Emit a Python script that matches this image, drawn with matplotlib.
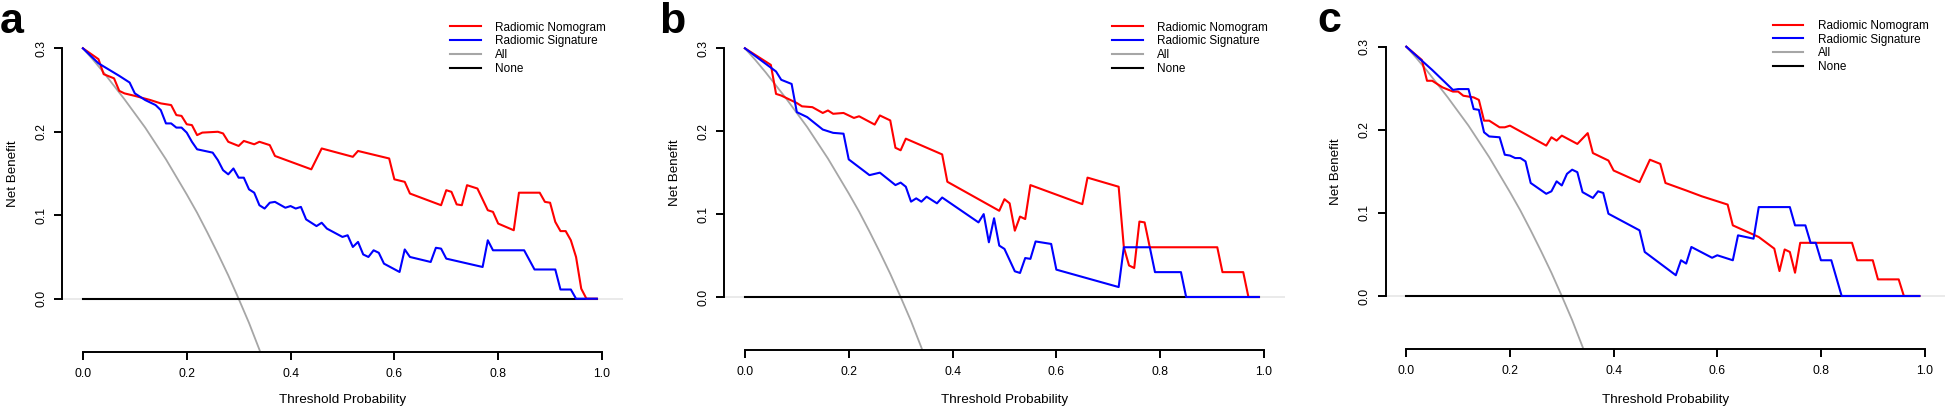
import matplotlib
matplotlib.use("Agg")
import matplotlib.pyplot as plt
from matplotlib.lines import Line2D

# ---------------- data ----------------
thresholds_all = [0.00, 0.02, 0.04, 0.06, 0.08, 0.10, 0.12, 0.14, 0.16, 0.18,
                  0.20, 0.22, 0.24, 0.26, 0.28, 0.30, 0.32, 0.34, 0.36]
nb_all = [0.300, 0.286, 0.271, 0.255, 0.239, 0.222, 0.205, 0.186, 0.167, 0.146,
          0.125, 0.103, 0.079, 0.054, 0.028, 0.000, -0.029, -0.061, -0.094]
none_x = [0.0, 0.99]
none_y = [0.0, 0.0]

a_nomo_x = [0, .03, .04, .06, .07, .08, .10, .13, .15, .17, .18, .19, .20, .21, .22, .23, .26, .27, .28,
            .30, .31, .33, .34, .36, .37, .44, .46, .52, .53, .59, .60, .62, .63, .69, .70, .71, .72, .73,
            .74, .76, .78, .79, .80, .83, .84, .88, .89, .90, .91, .92, .93, .94, .95, .96, .97, .99]
a_nomo_y = [.300, .287, .269, .264, .249, .246, .243, .238, .234, .232, .220, .219, .209, .208, .196, .199,
            .200, .198, .188, .183, .189, .185, .188, .184, .171, .155, .180, .170, .177, .168, .143, .140,
            .126, .112, .130, .128, .113, .112, .136, .132, .106, .104, .090, .082, .127, .127, .116, .115,
            .092, .081, .081, .070, .050, .012, .000, .000]
a_sig_x = [0, .03, .07, .09, .10, .11, .12, .14, .15, .16, .17, .18, .19, .20, .21, .22, .25, .26, .27, .28,
           .29, .30, .31, .32, .33, .34, .35, .36, .37, .39, .40, .41, .42, .43, .45, .46, .47, .50, .51, .52,
           .53, .54, .55, .56, .57, .58, .61, .62, .63, .67, .68, .69, .70, .77, .78, .79, .85, .87, .91, .92,
           .94, .95, .99]
a_sig_y = [.300, .282, .267, .259, .246, .242, .238, .232, .226, .210, .210, .205, .205, .199, .188, .179,
           .175, .166, .154, .149, .156, .145, .145, .131, .127, .112, .108, .115, .116, .109, .111, .108,
           .110, .095, .087, .091, .084, .074, .076, .062, .068, .053, .050, .058, .055, .042, .032, .059,
           .050, .044, .061, .060, .048, .038, .070, .058, .058, .035, .035, .011, .011, .000, .000]

b_nomo_x = [0, .05, .06, .07, .10, .11, .13, .15, .16, .17, .19, .21, .22, .25, .26, .28, .29, .30, .31, .38,
            .39, .49, .50, .51, .52, .53, .54, .55, .65, .66, .72, .73, .74, .75, .76, .77, .78, .91, .92, .96,
            .97, .99]
b_nomo_y = [.300, .280, .245, .243, .234, .230, .229, .222, .225, .221, .222, .216, .218, .208, .219, .213,
            .180, .177, .191, .172, .139, .104, .118, .113, .080, .097, .094, .135, .112, .144, .133, .060,
            .038, .035, .091, .090, .060, .060, .030, .030, .000, .000]
b_sig_x = [0, .06, .07, .09, .10, .12, .15, .17, .19, .20, .24, .26, .29, .30, .31, .32, .33, .34, .35, .37,
           .38, .45, .46, .47, .48, .49, .50, .52, .53, .54, .55, .56, .59, .60, .72, .73, .78, .79, .84, .85,
           .99]
b_sig_y = [.300, .272, .262, .257, .223, .217, .202, .198, .197, .166, .147, .150, .135, .138, .133, .115,
           .119, .115, .121, .113, .120, .090, .100, .066, .095, .062, .058, .031, .029, .047, .046, .067,
           .064, .033, .012, .060, .060, .030, .030, .000, .000]

c_nomo_x = [0, .03, .04, .05, .07, .09, .10, .11, .13, .14, .15, .16, .18, .19, .20, .27, .28, .29, .30, .33,
            .35, .36, .39, .40, .45, .47, .49, .50, .54, .57, .62, .63, .68, .71, .72, .73, .74, .75, .76, .86,
            .87, .90, .91, .95, .96, .99]
c_nomo_y = [.300, .284, .259, .259, .251, .246, .246, .241, .239, .236, .211, .211, .203, .203, .205, .181,
            .191, .187, .193, .183, .196, .172, .163, .151, .137, .164, .159, .136, .127, .120, .110, .085,
            .071, .057, .030, .056, .053, .028, .064, .064, .043, .043, .020, .020, .000, .000]
c_sig_x = [0, .05, .07, .09, .10, .12, .13, .14, .15, .16, .18, .19, .20, .21, .22, .23, .24, .27, .28, .29,
           .30, .31, .32, .33, .34, .36, .37, .38, .39, .45, .46, .52, .53, .54, .55, .59, .60, .63, .64, .67,
           .68, .74, .75, .77, .78, .79, .80, .82, .84, .99]
c_sig_y = [.300, .272, .260, .248, .249, .249, .225, .224, .197, .192, .191, .170, .169, .166, .166, .162,
           .136, .123, .126, .138, .133, .147, .152, .149, .125, .118, .126, .124, .099, .079, .053, .025,
           .043, .039, .059, .046, .049, .043, .073, .069, .107, .107, .085, .085, .064, .064, .043, .043,
           .000, .000]

panel_letters = ["a", "b", "c"]
legend_labels = ["Radiomic Nomogram", "Radiomic Signature", "All", "None"]
x_ticks = [0.0, 0.2, 0.4, 0.6, 0.8, 1.0]
y_ticks = [0.0, 0.1, 0.2, 0.3]
x_label = "Threshold Probability"
y_label = "Net Benefit"

panels = [
    (a_nomo_x, a_nomo_y, a_sig_x, a_sig_y),
    (b_nomo_x, b_nomo_y, b_sig_x, b_sig_y),
    (c_nomo_x, c_nomo_y, c_sig_x, c_sig_y),
]

# ---------------- style ----------------
plt.rcParams["font.family"] = ["Liberation Sans", "DejaVu Sans"]

W, H = 1946, 408
fig = plt.figure(figsize=(W / 100, H / 100), dpi=100)

# pixel anchors: (x of 0, x of 1, y of 0.3, y of 0)
anchors = [(82.9, 602.0, 48.3, 298.7),
           (744.9, 1264.0, 48.3, 297.0),
           (1406.3, 1924.6, 46.7, 296.0)]
legend_top = [21.5, 21.5, 19.8]
letter_pos = [(0, 33), (659, 33), (1317, 32)]

XL = (-0.04, 1.04)
YL = (-0.064, 0.314)
LW = 1.5
FS_LEG = 8.5

for i, (nx, ny, sx, sy) in enumerate(panels):
    x0, x1, y3, y0 = anchors[i]
    sxp = x1 - x0
    syp = (y0 - y3) / 0.3
    left = x0 + XL[0] * sxp
    right = x0 + XL[1] * sxp
    top = y0 - YL[1] * syp
    bot = y0 - YL[0] * syp
    ax = fig.add_axes([left / W, 1 - bot / H, (right - left) / W, (bot - top) / H])
    ax.set_xlim(*XL)
    ax.set_ylim(*YL)

    ax.axhline(0, color="#e6e6e6", lw=1.2, zorder=1)
    ax.plot(thresholds_all, nb_all, color="#a6a6a6", lw=1.3, zorder=2)
    ax.plot(none_x, none_y, color="black", lw=LW, zorder=3)
    ax.plot(nx, ny, color="#ff0000", lw=LW, zorder=4)
    ax.plot(sx, sy, color="#0000ff", lw=LW, zorder=5)

    for s in ["top", "right"]:
        ax.spines[s].set_visible(False)
    ax.spines["left"].set_bounds(0, 0.3)
    ax.spines["bottom"].set_bounds(0, 1)
    ax.spines["left"].set_linewidth(1.4)
    ax.spines["bottom"].set_linewidth(1.4)

    ax.set_xticks(x_ticks)
    ax.set_xticklabels([f"{v:.1f}" for v in x_ticks], fontsize=8.7)
    ax.set_yticks(y_ticks)
    ax.set_yticklabels([f"{v:.1f}" for v in y_ticks], fontsize=8.7, rotation=90, va="center")
    ax.tick_params(axis="x", length=5.5, width=1.4, pad=6)
    ax.tick_params(axis="y", length=5.5, width=1.4, pad=5)

    ax.set_xlabel(x_label, fontsize=9.7)
    ax.xaxis.set_label_coords(0.5, -(400 - bot) / (bot - top))
    ax.xaxis.label.set_va("center")
    ax.set_ylabel(y_label, fontsize=9.6)
    ylab_x = x0 - 70
    ax.yaxis.set_label_coords(-(left - ylab_x) / (right - left), (0.15 - YL[0]) / (YL[1] - YL[0]))
    ax.yaxis.label.set_va("center")

    handles = [Line2D([], [], color="#ff0000", lw=LW),
               Line2D([], [], color="#0000ff", lw=LW),
               Line2D([], [], color="#a6a6a6", lw=LW),
               Line2D([], [], color="black", lw=LW)]
    leg_x = x0 + 0.707 * sxp
    ax.legend(handles, legend_labels, loc="upper left",
              bbox_to_anchor=(leg_x / W, 1 - legend_top[i] / H), bbox_transform=fig.transFigure,
              frameon=False, borderpad=0, borderaxespad=0, handlelength=2.6, handletextpad=1.2,
              labelspacing=0.15, prop={"size": FS_LEG})

    lx, ly = letter_pos[i]
    fig.text(lx / W, 1 - ly / H, panel_letters[i], fontsize=31, fontweight="bold",
             ha="left", va="baseline")

fig.savefig("out.png", dpi=100)
